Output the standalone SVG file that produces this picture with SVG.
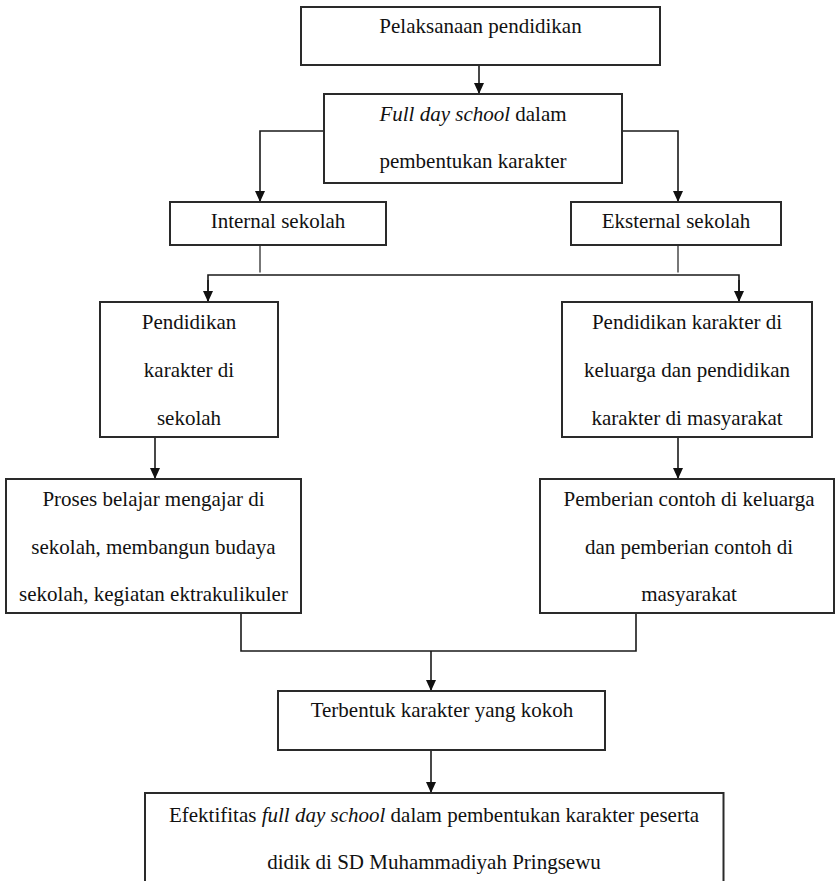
<svg xmlns="http://www.w3.org/2000/svg" width="836" height="881" viewBox="0 0 836 881">
<defs>
<style>
.box{fill:#fff;stroke:#2a2a2a;stroke-width:2}
.t{font-family:"Liberation Serif","Times New Roman",serif;font-size:21px;fill:#111;text-anchor:middle}
.i{font-style:italic}
.c{fill:none;stroke:#1a1a1a;stroke-width:1.6}
.g{fill:none;stroke:#555;stroke-width:1.6}
</style>
<marker id="ah" markerUnits="userSpaceOnUse" viewBox="0 0 11 10" markerWidth="11" markerHeight="10" refX="11" refY="5" orient="auto">
<path d="M0,0 L11,5 L0,10 z" fill="#111"/>
</marker>
</defs>
<rect width="836" height="881" fill="#fff"/>
<g id="connectors">
<path class="c" d="M479,65 V94" marker-end="url(#ah)"/>
<path class="c" d="M324,131 H260 V202" marker-end="url(#ah)"/>
<path class="c" d="M622,131 H678 V202" marker-end="url(#ah)"/>
<path class="g" d="M260,245 V272.5"/>
<path class="g" d="M678,245 V272.5"/>
<path class="c" d="M208,302 V275 H739 V302" stroke-linejoin="miter"/>
<path class="c" d="M208,280 V302" marker-end="url(#ah)"/>
<path class="c" d="M739,280 V302" marker-end="url(#ah)"/>
<path class="c" d="M155,437 V479" marker-end="url(#ah)"/>
<path class="c" d="M678,437 V479" marker-end="url(#ah)"/>
<path class="c" d="M241,613 V651 H636 V613"/>
<path class="c" d="M431,651 V691" marker-end="url(#ah)"/>
<path class="c" d="M431,750 V793" marker-end="url(#ah)"/>
</g>
<g id="n1">
<rect class="box" x="301" y="7" width="359" height="58"/>
<text class="t" x="480.5" y="33">Pelaksanaan pendidikan</text>
</g>
<g id="n2">
<rect class="box" x="324" y="94" width="298" height="89"/>
<text class="t" x="473" y="120.5"><tspan class="i">Full day school</tspan> dalam</text>
<text class="t" x="473" y="168">pembentukan karakter</text>
</g>
<g id="n3">
<rect class="box" x="170" y="202" width="216" height="43"/>
<text class="t" x="278" y="228">Internal sekolah</text>
</g>
<g id="n4">
<rect class="box" x="571" y="202" width="210" height="43"/>
<text class="t" x="676" y="228">Eksternal sekolah</text>
</g>
<g id="n5">
<rect class="box" x="100" y="302" width="178" height="135"/>
<text class="t" x="189" y="329">Pendidikan</text>
<text class="t" x="189" y="377">karakter di</text>
<text class="t" x="189" y="425">sekolah</text>
</g>
<g id="n6">
<rect class="box" x="562" y="302" width="250" height="135"/>
<text class="t" x="687" y="329">Pendidikan karakter di</text>
<text class="t" x="687" y="377">keluarga dan pendidikan</text>
<text class="t" x="687" y="425">karakter di masyarakat</text>
</g>
<g id="n7">
<rect class="box" x="6" y="479" width="295" height="134"/>
<text class="t" x="153.5" y="506">Proses belajar mengajar di</text>
<text class="t" x="153.5" y="553.5">sekolah, membangun budaya</text>
<text class="t" x="153.5" y="601">sekolah, kegiatan ektrakulikuler</text>
</g>
<g id="n8">
<rect class="box" x="540" y="479" width="294" height="134"/>
<text class="t" x="689" y="506">Pemberian contoh di keluarga</text>
<text class="t" x="689" y="553.5">dan pemberian contoh di</text>
<text class="t" x="689" y="601">masyarakat</text>
</g>
<g id="n9">
<rect class="box" x="278" y="691" width="327" height="59"/>
<text class="t" x="442" y="717">Terbentuk karakter yang kokoh</text>
</g>
<g id="n10">
<rect class="box" x="145" y="793" width="578.5" height="100"/>
<text class="t" x="434" y="821.5">Efektifitas <tspan class="i">full day school</tspan> dalam pembentukan karakter peserta</text>
<text class="t" x="434" y="869">didik di SD Muhammadiyah Pringsewu</text>
</g>
</svg>
